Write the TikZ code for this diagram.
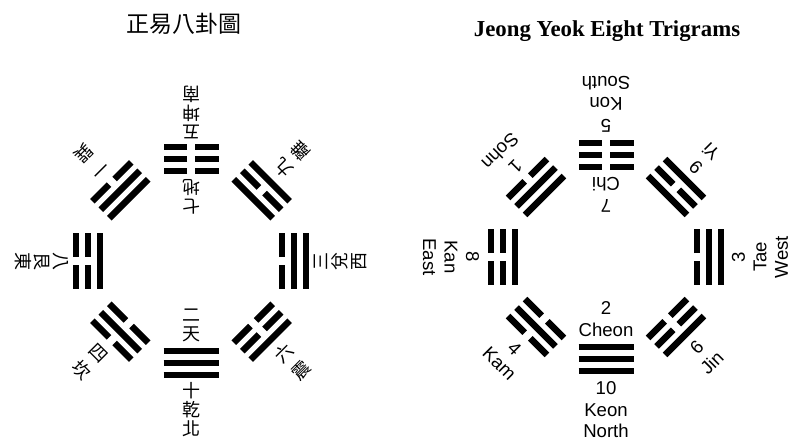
\documentclass[tikz,border=0pt]{standalone}
\usepackage{fontspec}
\setmainfont{Liberation Sans}
\newfontfamily\titlefont{Liberation Serif}
\newfontfamily\cjk{Noto Sans CJK TC}
\usepackage{tikz}

% one line of a trigram: #1 = y, #2 = 1 solid / 0 broken
\newcommand{\yao}[2]{%
  \ifnum#2=1
    \draw[bar] (-27.5,#1) -- (27.5,#1);
  \else
    \draw[bar] (-27.5,#1) -- (-4,#1) (4,#1) -- (27.5,#1);
  \fi}
% trigram at distance #1 below the local centre, lines from inside out
\newcommand{\gua}[4]{%
  \yao{-#1+12}{#2}\yao{-#1}{#3}\yao{-#1-12}{#4}}

\begin{document}
\begin{tikzpicture}
    [x=0.5pt, y=0.5pt,
      bar/.style={line width=3.25pt},
      en/.style={font=\fontsize{9.3}{10.75}\selectfont, align=center,
        inner sep=0pt},
      zh/.style={font=\cjk\fontsize{9}{9.5}\selectfont, align=center,
        inner sep=0pt},
      zhd/.style={font=\cjk\fontsize{9}{12}\selectfont, align=center,
        inner sep=0pt}]
    \useasboundingbox (0,0) rectangle (790,439);
    \node[font=\cjk\fontsize{11.5}{12}\selectfont] (zh-title) at (183.5,415) {正易八卦圖};
    \node[font=\titlefont\bfseries\fontsize{11.4}{12}\selectfont, anchor=base]
      (en-title) at (607,402.3) {Jeong Yeok Eight Trigrams};

    % left diagram
    \begin{scope}[shift={(191,178)}]
      \begin{scope}[rotate=0, transform shape]
        \gua{102}{1}{1}{1}
        \node[zh] (qian-in) at (0,-64) {二\\天};
        \node[zh] (qian-out) at (0,-148.5) {十\\乾\\北};
      \end{scope}
      \begin{scope}[rotate=180, transform shape]
        \gua{102}{0}{0}{0}
        \node[zh] (kun-in) at (0,-64) {七\\地};
        \node[zh] (kun-out) at (0,-148.5) {五\\坤\\南};
      \end{scope}
      \begin{scope}[rotate=270, transform shape]
        \gua{103}{1}{0}{0}
        \node[zh] (gen-out) at (0,-149.5) {八\\艮\\東};
      \end{scope}
      \begin{scope}[rotate=90, transform shape]
        \gua{103}{0}{1}{1}
        \node[zh] (dui-out) at (0,-149.5) {三\\兌\\西};
      \end{scope}
      \begin{scope}[rotate=135, transform shape]
        \gua{100}{1}{0}{1}
        \node[zhd] (li-out) at (0,-143) {九\\離};
      \end{scope}
      \begin{scope}[rotate=225, transform shape]
        \gua{100}{1}{1}{0}
        \node[zhd] (xun-out) at (0,-143) {一\\巽};
      \end{scope}
      \begin{scope}[rotate=315, transform shape]
        \gua{100}{0}{1}{0}
        \node[zhd] (kan-out) at (0,-143) {四\\坎};
      \end{scope}
      \begin{scope}[rotate=45, transform shape]
        \gua{100}{0}{0}{1}
        \node[zhd] (zhen-out) at (0,-143) {六\\震};
      \end{scope}
    \end{scope}

    % right diagram
    \begin{scope}[shift={(606,182)}]
      \begin{scope}[rotate=0, transform shape]
        \gua{102}{1}{1}{1}
        \node[en] (keon-in) at (0,-62) {2\\Cheon};
        \node[en] (keon-out) at (0,-153) {10\\Keon\\North};
      \end{scope}
      \begin{scope}[rotate=180, transform shape]
        \gua{102}{0}{0}{0}
        \node[en] (kon-in) at (0,-62) {7\\Chi};
        \node[en] (kon-out) at (0,-153) {5\\Kon\\South};
      \end{scope}
      \begin{scope}[rotate=270, transform shape]
        \gua{103}{1}{0}{0}
        \node[en] (kan-out) at (0,-155) {8\\Kan\\East};
      \end{scope}
      \begin{scope}[rotate=90, transform shape]
        \gua{103}{0}{1}{1}
        \node[en] (tae-out) at (0,-154) {3\\Tae\\West};
      \end{scope}
      \begin{scope}[rotate=135, transform shape]
        \gua{99}{1}{0}{1}
        \node[en] (yi-out) at (0,-138) {9\\Yi};
      \end{scope}
      \begin{scope}[rotate=225, transform shape]
        \gua{99}{1}{1}{0}
        \node[en] (sohn-out) at (0,-139) {1\\Sohn};
      \end{scope}
      \begin{scope}[rotate=315, transform shape]
        \gua{99}{0}{1}{0}
        \node[en] (kam-out) at (0,-140) {4\\Kam};
      \end{scope}
      \begin{scope}[rotate=45, transform shape]
        \gua{99}{0}{0}{1}
        \node[en] (jin-out) at (0,-139) {6\\Jin};
      \end{scope}
    \end{scope}
\end{tikzpicture}
\end{document}
